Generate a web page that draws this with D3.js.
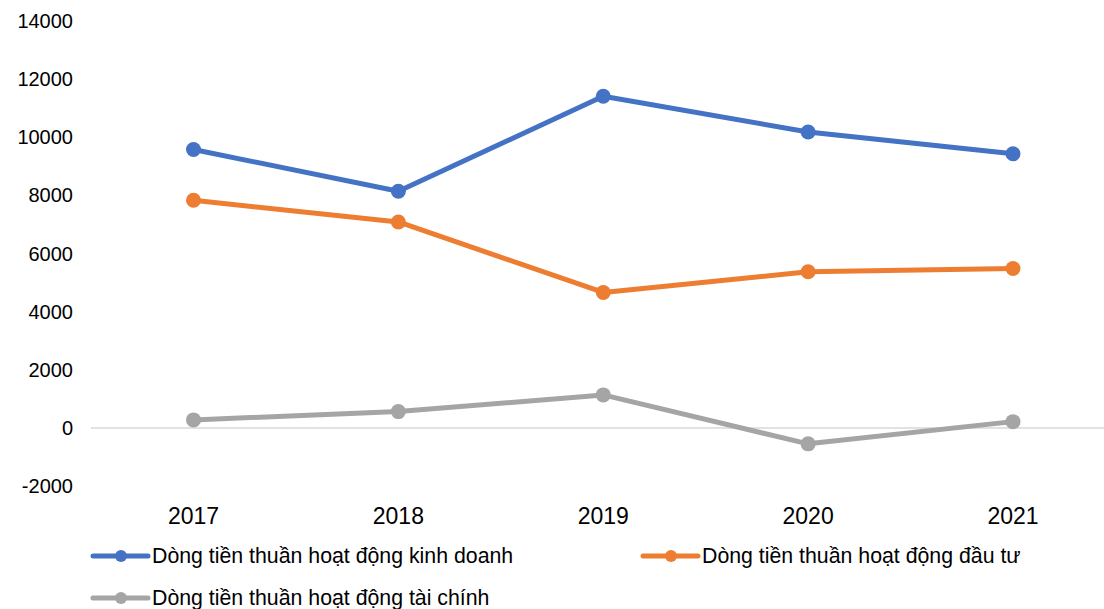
<!DOCTYPE html>
<html>
<head>
<meta charset="utf-8">
<script src="https://cdn.jsdelivr.net/npm/d3@7"></script>
<style>
  body { margin: 0; background: #fff; }
  text { font-family: "Liberation Sans", Arial, sans-serif; fill: #000; }
</style>
</head>
<body>
<div id="chart"></div>
<script>
// years on the category axis
var years = ['2017', '2018', '2019', '2020', '2021'];
// net cash flows per year
var kinhDoanh = [9580, 8140, 11410, 10180, 9430];
var dauTu = [7830, 7085, 4660, 5370, 5485];
var taiChinh = [275, 560, 1135, -550, 215];
var yTicks = [-2000, 0, 2000, 4000, 6000, 8000, 10000, 12000, 14000];
var seriesNames = ['Dòng tiền thuần hoạt động kinh doanh', 'Dòng tiền thuần hoạt động đầu tư', 'Dòng tiền thuần hoạt động tài chính'];
var colors = ['#4472C4', '#ED7D31', '#A5A5A5'];

var series = [kinhDoanh, dauTu, taiChinh].map(function (vals, i) {
    return { name: seriesNames[i], color: colors[i], values: vals };
});

var width = 1104,
    height = 609;

var svg = d3.select('#chart')
    .append('svg')
    .attr('width', width)
    .attr('height', height);

var x = d3.scalePoint()
    .domain(years)
    .range([193.5, 1013])
    .padding(0);

var y = d3.scaleLinear()
    .domain([-2000, 14000])
    .range([486, 21]);

// zero line
svg.append('line')
    .attr('x1', 91)
    .attr('x2', 1116)
    .attr('y1', y(0))
    .attr('y2', y(0))
    .style('stroke', '#D9D9D9')
    .style('stroke-width', 1.5);

// y tick labels
svg.append('g')
    .selectAll('text')
    .data(yTicks)
    .enter().append('text')
    .attr('x', 73)
    .attr('y', function (d) { return y(d); })
    .attr('dy', '0.35em')
    .attr('text-anchor', 'end')
    .style('font-size', '20px')
    .text(function (d) { return d; });

// x labels
svg.append('g')
    .selectAll('text')
    .data(years)
    .enter().append('text')
    .attr('x', function (d) { return x(d); })
    .attr('y', 516)
    .attr('dy', '0.35em')
    .attr('text-anchor', 'middle')
    .style('font-size', '23px')
    .text(function (d) { return d; });

var line = d3.line()
    .x(function (d, i) { return x(years[i]); })
    .y(function (d) { return y(d); });

var g = svg.selectAll('.series')
    .data(series)
    .enter().append('g')
    .attr('class', 'series');

g.append('path')
    .attr('d', function (d) { return line(d.values); })
    .style('fill', 'none')
    .style('stroke', function (d) { return d.color; })
    .style('stroke-width', 5)
    .style('stroke-linejoin', 'round');

g.each(function (s) {
    d3.select(this).selectAll('circle')
        .data(s.values)
        .enter().append('circle')
        .attr('cx', function (d, i) { return x(years[i]); })
        .attr('cy', function (d) { return y(d); })
        .attr('r', 7.5)
        .style('fill', s.color);
});

// legend
var legendPos = [[93, 556], [643, 556], [93, 598]];
var legend = svg.selectAll('.legend')
    .data(series)
    .enter().append('g')
    .attr('class', 'legend')
    .attr('transform', function (d, i) {
        return 'translate(' + legendPos[i][0] + ',' + legendPos[i][1] + ')';
    });

legend.append('line')
    .attr('x1', 0)
    .attr('x2', 55)
    .style('stroke', function (d) { return d.color; })
    .style('stroke-width', 5)
    .style('stroke-linecap', 'round');

legend.append('circle')
    .attr('cx', 28)
    .attr('r', 6)
    .style('fill', function (d) { return d.color; });

legend.append('text')
    .attr('x', 59)
    .attr('dy', '0.35em')
    .style('font-size', '21.3px')
    .text(function (d) { return d.name; });
</script>
</body>
</html>
